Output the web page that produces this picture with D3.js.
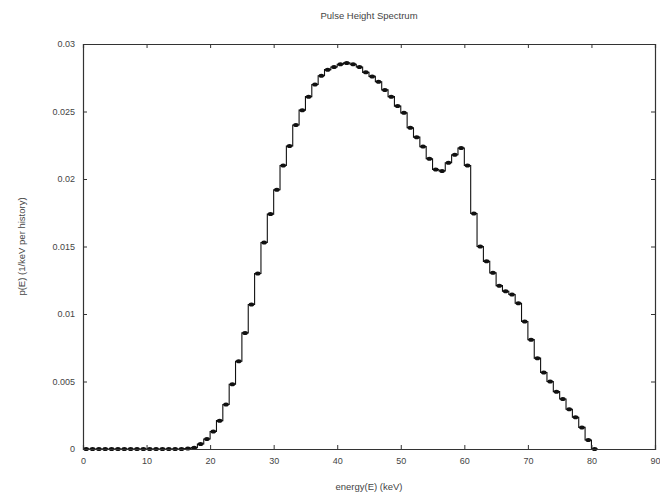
<!DOCTYPE html>
<html>
<head>
<meta charset="utf-8">
<script src="https://cdn.jsdelivr.net/npm/d3@7"></script>
<style>
  body { margin: 0; background: #fff; }
  text { font-family: "Liberation Sans", Arial, sans-serif; fill: #444; }
</style>
</head>
<body>
<div id="chart"></div>
<script>
// bin index (keV), 1 keV bins, markers at bin centres
var binStart = d3.range(0, 81);
var pE = [
  0, 0, 0, 0, 0, 0, 0, 0, 0, 0,
  0, 0, 0, 0, 0, 0, 0.00003, 0.0001, 0.00037, 0.00074,
  0.0013, 0.0021, 0.0033, 0.0048, 0.0065, 0.0086, 0.0107, 0.0130, 0.0153, 0.0174,
  0.0192, 0.0210, 0.02245, 0.0240, 0.0251, 0.0261, 0.0270, 0.02765, 0.0281, 0.0283,
  0.0285, 0.0286, 0.0285, 0.0283, 0.0279, 0.0276, 0.0272, 0.0266, 0.0261, 0.0254,
  0.0249, 0.0238, 0.0231, 0.0224, 0.0215, 0.0207, 0.0206, 0.0212, 0.0218, 0.0223,
  0.0210, 0.01745, 0.0150, 0.0139, 0.01305, 0.0121, 0.01168, 0.01144, 0.0108, 0.00945,
  0.0081, 0.00673, 0.00567, 0.0050, 0.00425, 0.0037, 0.00295, 0.00235, 0.0016, 0.00067,
  0
];
var xTicks = [0, 10, 20, 30, 40, 50, 60, 70, 80, 90];
var yTicks = [0, 0.005, 0.01, 0.015, 0.02, 0.025, 0.03];

var W = 660, H = 494;
var margin = {top: 44, right: 5, bottom: 45, left: 83};
var width = W - margin.left - margin.right,
    height = H - margin.top - margin.bottom;

var svg = d3.select("#chart").append("svg")
    .attr("width", W)
    .attr("height", H);

var g = svg.append("g")
    .attr("transform", "translate(" + margin.left + "," + margin.top + ")");

var x = d3.scaleLinear().domain([0, 90]).range([0, width]);
var y = d3.scaleLinear().domain([0, 0.03]).range([height, 0]);

// stairs built from bin edges
var edges = binStart.map(function(b, i) { return {e: b, v: pE[i]}; });
edges.push({e: binStart[binStart.length - 1] + 1, v: pE[pE.length - 1]});

var stairs = d3.line()
    .x(function(d) { return x(d.e); })
    .y(function(d) { return y(d.v); })
    .curve(d3.curveStepAfter);

g.append("path")
    .datum(edges)
    .attr("fill", "none")
    .attr("stroke", "#111")
    .attr("stroke-width", 1.1)
    .attr("d", stairs);

g.selectAll(".pt")
    .data(binStart)
  .enter().append("ellipse")
    .attr("class", "pt")
    .attr("cx", function(b) { return x(b + 0.5); })
    .attr("cy", function(b, i) { return y(pE[i]); })
    .attr("rx", 2.8)
    .attr("ry", 2)
    .attr("fill", "#111");

// axes, ticks inward on all four sides
var axisColor = "#333";
g.append("g")
    .attr("transform", "translate(0," + height + ")")
    .call(d3.axisBottom(x).tickValues(xTicks).tickSize(-4).tickPadding(9).tickFormat(d3.format("d")));
g.append("g")
    .call(d3.axisTop(x).tickValues(xTicks).tickSize(-4).tickFormat(""));
g.append("g")
    .call(d3.axisLeft(y).tickValues(yTicks).tickSize(-4).tickPadding(8).tickFormat(function(d) { return d === 0 ? "0" : d3.format("")(+d.toFixed(3)); }));
g.append("g")
    .attr("transform", "translate(" + width + ",0)")
    .call(d3.axisRight(y).tickValues(yTicks).tickSize(-4).tickFormat(""));

g.selectAll(".domain").attr("stroke", axisColor).attr("stroke-width", 1.2);
g.selectAll(".tick line").attr("stroke", axisColor);
g.selectAll(".tick text").style("font-size", "9px").attr("fill", "#555");

svg.append("text")
    .attr("x", margin.left + width / 2)
    .attr("y", 19)
    .attr("text-anchor", "middle")
    .style("font-size", "9.5px")
    .text("Pulse Height Spectrum");

svg.append("text")
    .attr("x", margin.left + width / 2)
    .attr("y", 490)
    .attr("text-anchor", "middle")
    .style("font-size", "9.5px")
    .text("energy(E) (keV)");

svg.append("text")
    .attr("transform", "translate(25," + (margin.top + height / 2) + ") rotate(-90)")
    .attr("text-anchor", "middle")
    .style("font-size", "9.5px")
    .text("p(E) (1/keV per history)");
</script>
</body>
</html>
